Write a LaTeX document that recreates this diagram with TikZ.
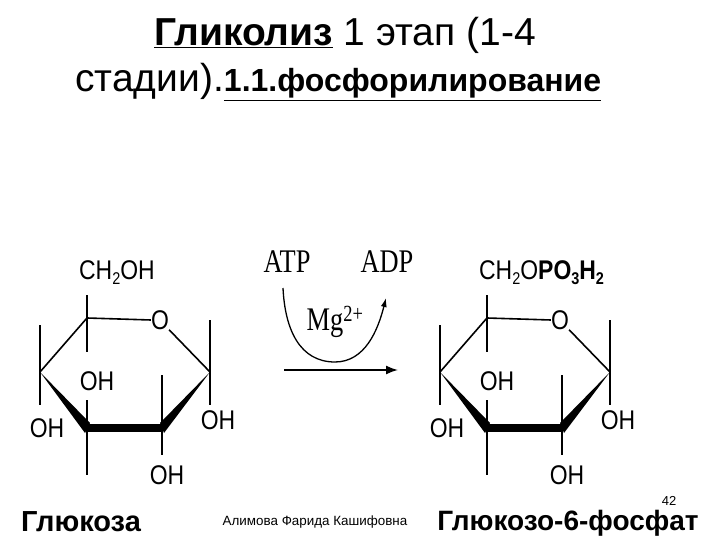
\documentclass[tikz,border=0pt]{standalone}
\usepackage{fontspec}
\usetikzlibrary{calc,arrows.meta}
\setmainfont{Liberation Sans}
\newfontfamily\tnr{Liberation Serif}
\begin{document}
\begin{tikzpicture}[x=1pt,y=-1pt,
  bond/.style={line width=1.6pt},
  lbl/.style={inner sep=0pt,font=\fontsize{27}{27}\selectfont,xscale=0.85},
  tr/.style={inner sep=0pt,font=\tnr\fontsize{33}{33}\selectfont,xscale=0.8}]
\useasboundingbox (0,0) rectangle (720,540);
\node[inner sep=0pt,font=\fontsize{39}{39}\selectfont] (t1) at (345,35) {\textbf{\underline{Гликолиз}} 1 этап (1-4};
\node[inner sep=0pt,anchor=west] (t2) at (75,82) {\fontsize{39}{39}\selectfont стадии).\fontsize{32}{32}\selectfont\textbf{\underline{1.1.фосфорилирование}}};
\foreach \dx/\nm in {0/a,400/b}{
\begin{scope}[xshift=\dx]
  \coordinate (\nm5) at (87,318);
  \coordinate (\nm1) at (210,372);
  \coordinate (\nm2) at (162,428);
  \coordinate (\nm3) at (87,428);
  \coordinate (\nm4) at (40,372);
  \node[lbl] (\nm O) at (160,320) {O};
  \draw[bond] (\nm5) -- (\nm O.west);
  \draw[bond] (\nm O.south east) -- (\nm1);
  \draw[bond] (\nm5) -- (\nm4);
  \fill (\nm4) -- ($(\nm3)+(3,-5)$) -- ($(\nm3)+(-2,5)$) -- cycle;
  \fill ($(\nm3)+(0,-4)$) rectangle ($(\nm2)+(0,4)$);
  \fill (\nm1) -- ($(\nm2)+(2,5)$) -- ($(\nm2)+(-2,-5)$) -- cycle;
  \draw[bond] (87,295) -- (87,352);
  \draw[bond] (40,325) -- (40,405);
  \draw[bond] (210,320) -- (210,405);
  \draw[bond] (87,400) -- (87,475);
  \draw[bond] (162,375) -- (162,455);
  \node[lbl] (\nm h4) at (47,428) {OH};
  \node[lbl] (\nm h3) at (97,381) {OH};
  \node[lbl] (\nm h1) at (218,420) {OH};
  \node[lbl] (\nm h2) at (167,475) {OH};
\end{scope}}
\node[lbl,anchor=west] (ach) at (79,273) {CH\raisebox{-0.35ex}{\fontsize{17}{17}\selectfont 2}OH};
\node[lbl,anchor=west] (bch) at (479,273) {CH\raisebox{-0.35ex}{\fontsize{17}{17}\selectfont 2}O\textbf{PO\raisebox{-0.35ex}{\fontsize{17}{17}\selectfont 3}H\raisebox{-0.35ex}{\fontsize{17}{17}\selectfont 2}}};
\node[tr] (atp) at (287,262) {ATP};
\node[tr] (adp) at (387,262) {ADP};
\node[tr] (mg) at (335,322) {Mg\textsuperscript{2+}};
\coordinate (cs) at (283,288);
\coordinate (ce) at (386,298);
\draw[line width=1.3pt,-{Latex[length=9pt,width=6pt]}] (cs) .. controls (285,330) and (300,362) .. (335,362) .. controls (365,362) and (378,330) .. (ce);
\coordinate (as) at (284,370);
\coordinate (ae) at (398,370);
\draw[line width=1.6pt,-{Latex[length=12pt,width=9pt]}] (as) -- (ae);
\node[inner sep=0pt,font=\bfseries\fontsize{29}{29}\selectfont] (g1) at (81,522) {Глюкоза};
\node[inner sep=0pt,font=\fontsize{13.4}{13.4}\selectfont] (au) at (315,522) {Алимова Фарида Кашифовна};
\node[inner sep=0pt,font=\bfseries\fontsize{28}{28}\selectfont] (g2) at (568,523) {Глюкозо-6-фосфат};
\node[inner sep=0pt,font=\fontsize{13}{13}\selectfont] (pg) at (669,501) {42};
\end{tikzpicture}
\end{document}
